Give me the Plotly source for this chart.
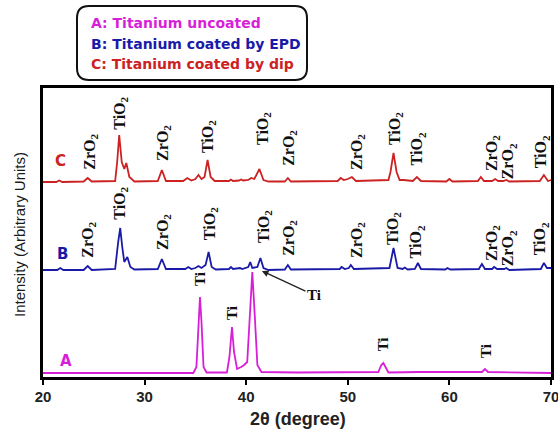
import plotly.graph_objects as go

# ---- data (2theta in degrees, intensity in arbitrary units, already stacked) ----
a_theta = [20, 30, 34.8, 35.1, 35.3, 35.45, 35.6, 35.8, 36.1, 38.1, 38.35, 38.6, 38.8, 39.1, 39.5, 39.8,
           40.1, 40.35, 40.6, 40.85, 41.1, 41.5, 45, 53.0, 53.3, 53.5, 53.7, 54.0, 57, 63.2, 63.5, 63.8, 70]
a_int = [4, 4, 4, 10, 60, 80, 55, 10, 4.5, 4.5, 20, 50, 25, 8, 10, 12,
         15, 60, 105, 60, 12, 5, 4.5, 5, 12, 14, 10, 4.5, 5, 5, 8, 5, 4]

b_theta = [20, 21.4, 21.7, 22.0, 24.0, 24.4, 24.8, 27.1, 27.4, 27.6, 27.8, 28.0, 28.3, 28.6, 29.0,
           31.3, 31.7, 32.1, 34.0, 34.3, 34.6, 35.0, 35.3, 35.6, 36.0, 36.3, 36.6, 37.0, 38.3, 38.5,
           38.7, 39.4, 39.6, 40.2, 40.4, 40.6, 41.1, 41.4, 41.7, 42.2, 43.8, 44.1, 44.4, 49.2, 49.4,
           49.7, 50.1, 50.3, 50.6, 54.1, 54.5, 54.9, 55.4, 55.6, 55.9, 56.6, 56.9, 57.2, 59.6, 59.8,
           60.1, 62.9, 63.2, 63.5, 64.2, 64.4, 64.7, 65.4, 65.6, 65.9, 69.0, 69.3, 69.6, 70]
b_int = [107, 107, 109, 107, 107, 111, 107, 108, 135, 149, 130, 115, 120, 110, 107.5,
         108, 118, 108, 108, 110, 108, 109, 111, 109, 112, 125, 110, 107.5, 108, 110,
         108, 109, 108, 110, 115, 109, 110, 119, 109, 107, 107.5, 112, 107.5, 108, 110,
         108, 109, 112, 108, 109, 129, 109, 108, 109.5, 107.5, 108, 114, 108, 107.5, 109,
         107.5, 108, 113, 108, 108, 110, 108, 108, 109, 107, 108, 114, 109, 109]

c_theta = [20, 21.3, 21.6, 21.9, 24.0, 24.4, 24.8, 27.1, 27.3, 27.5, 27.75, 28.0, 28.2, 28.5, 29.0,
           31.3, 31.7, 32.1, 33.8, 34.2, 34.6, 35.0, 35.3, 35.6, 35.9, 36.2, 36.5, 36.9, 38.3, 38.5,
           38.7, 39.3, 39.5, 39.7, 40.2, 40.5, 40.8, 41.3, 41.7, 42.2, 43.8, 44.1, 44.4, 46.0, 49.0,
           49.3, 49.6, 50.0, 50.4, 50.8, 54.0, 54.2, 54.5, 54.8, 55.1, 55.5, 56.4, 56.8, 57.2, 59.7,
           60.0, 60.3, 62.8, 63.1, 63.4, 64.2, 64.5, 64.8, 65.3, 65.6, 65.9, 68.9, 69.3, 69.7, 70]
c_int = [195, 195, 196.5, 195, 195.5, 199, 195.5, 196, 215, 242, 215, 208, 214, 200, 195.5,
         196, 207, 196, 196, 199, 196.5, 198, 202, 198, 200, 217, 200, 196, 196, 197.5,
         196, 196.5, 197.5, 196.5, 197, 199, 198, 208, 197, 195.5, 195.5, 199, 195.5, 195.5, 196,
         199, 197, 198, 200, 196, 197, 205, 224, 205, 197, 197, 196, 200, 196, 195.5,
         198, 195.5, 196, 200, 196, 196, 198, 196, 196, 197, 195.5, 196, 202, 196, 197]

# phase labels: (2theta, label bottom intensity, text)
c_labels = [(24.6, 205, "ZrO<sub>2</sub>"), (27.6, 245, "TiO<sub>2</sub>"), (31.8, 214, "ZrO<sub>2</sub>"),
            (36.3, 222, "TiO<sub>2</sub>"), (41.7, 230, "TiO<sub>2</sub>"), (44.2, 209, "ZrO<sub>2</sub>"),
            (50.9, 205, "ZrO<sub>2</sub>"), (54.7, 230, "TiO<sub>2</sub>"), (56.9, 210, "TiO<sub>2</sub>"),
            (64.2, 204, "ZrO<sub>2</sub>"), (65.8, 196, "ZrO<sub>2</sub>"), (69.1, 207, "TiO<sub>2</sub>")]
b_labels = [(24.4, 117, "ZrO<sub>2</sub>"), (27.6, 155, "TiO<sub>2</sub>"), (31.8, 125, "ZrO<sub>2</sub>"),
            (36.5, 135, "TiO<sub>2</sub>"), (41.8, 132, "TiO<sub>2</sub>"), (44.2, 119, "ZrO<sub>2</sub>"),
            (50.9, 117, "ZrO<sub>2</sub>"), (54.5, 130, "TiO<sub>2</sub>"), (56.8, 117, "TiO<sub>2</sub>"),
            (64.2, 114, "ZrO<sub>2</sub>"), (65.8, 109, "ZrO<sub>2</sub>"), (69.0, 120, "TiO<sub>2</sub>")]
a_labels = [(35.45, 89, "Ti"), (38.6, 55, "Ti"), (53.5, 24, "Ti"), (63.6, 17, "Ti")]

x_ticks = [20, 30, 40, 50, 60, 70]

MAG = "#d81fd8"
BLU = "#1a1aa8"
RED = "#cc2222"

fig = go.Figure()
for th, it, col in [(a_theta, a_int, MAG), (b_theta, b_int, BLU), (c_theta, c_int, RED)]:
    fig.add_trace(go.Scatter(x=th, y=it, mode="lines", line=dict(color=col, width=1.8),
                             showlegend=False, hoverinfo="skip"))

ann = []
serif = dict(family="Liberation Serif, Times New Roman, serif", size=16, color="#111")
serif_ti = dict(family="Liberation Serif, Times New Roman, serif", size=15, color="#111")
for lab in c_labels + b_labels:
    ann.append(dict(x=lab[0], y=lab[1], xref="x", yref="y", text="<b>" + lab[2] + "</b>",
                    textangle=-90, showarrow=False, xanchor="center", yanchor="bottom", font=serif))
for lab in a_labels:
    ann.append(dict(x=lab[0], y=lab[1], xref="x", yref="y", text="<b>" + lab[2] + "</b>",
                    textangle=-90, showarrow=False, xanchor="center", yanchor="bottom", font=serif_ti))

# arrow pointing to Ti peak
ann.append(dict(x=41.55, y=106, xref="x", yref="y", text="<b>Ti</b>", showarrow=True,
                ax=52, ay=24, arrowhead=2, arrowsize=1, arrowwidth=1.3, arrowcolor="#222",
                font=serif_ti, standoff=0))

sans = "Liberation Sans, Arial, sans-serif"
wide = "DejaVu Sans, Verdana, sans-serif"
for txt, x, y, col in [("A", 22.3, 16, MAG), ("B", 21.9, 123, BLU), ("C", 21.7, 216, RED)]:
    ann.append(dict(x=x, y=y, xref="x", yref="y", text="<b>" + txt + "</b>", showarrow=False,
                    xanchor="center", yanchor="middle",
                    font=dict(family=wide, size=15, color=col)))

# legend box texts (paper coords)
def px(xp):
    return (xp - 43) / 508.0

def py(yp):
    return (377 - yp) / 289.0

for txt, yp, col in [("A: Titanium uncoated", 23, MAG), ("B: Titanium coated by EPD", 44, BLU),
                     ("C: Titanium coated by dip", 64, RED)]:
    ann.append(dict(x=px(89), y=py(yp), xref="paper", yref="paper", text="<b>" + txt + "</b>",
                    showarrow=False, xanchor="left", yanchor="middle",
                    font=dict(family=wide, size=14, color=col)))

# axis titles
ann.append(dict(x=px(19), y=py(235), xref="paper", yref="paper", text="Intensity (Arbitrary Units)",
                textangle=-90, showarrow=False, xanchor="center", yanchor="middle",
                font=dict(family=sans, size=15, color="#1a1a1a")))
ann.append(dict(x=px(298), y=py(419), xref="paper", yref="paper", text="<b>2θ (degree)</b>",
                showarrow=False, xanchor="center", yanchor="middle",
                font=dict(family=sans, size=18, color="#222")))

# rounded legend box
x0, x1, y0, y1 = px(77), px(307), py(80), py(6)
rx, ry = 12 / 508.0, 12 / 289.0
path = (f"M {x0+rx},{y1} L {x1-rx},{y1} Q {x1},{y1} {x1},{y1-ry} L {x1},{y0+ry} "
        f"Q {x1},{y0} {x1-rx},{y0} L {x0+rx},{y0} Q {x0},{y0} {x0},{y0+ry} "
        f"L {x0},{y1-ry} Q {x0},{y1} {x0+rx},{y1} Z")

fig.update_layout(
    width=558, height=432,
    margin=dict(l=43, r=7, t=88, b=55),
    paper_bgcolor="white", plot_bgcolor="white",
    annotations=ann,
    shapes=[dict(type="path", path=path, xref="paper", yref="paper",
                 line=dict(color="#111", width=2), fillcolor="rgba(0,0,0,0)")],
    xaxis=dict(range=[20, 70], tickvals=x_ticks, ticktext=[f"<b>{t}</b>" for t in x_ticks],
               showline=True, linewidth=2.5, linecolor="black", mirror=True,
               ticks="outside", ticklen=5, tickwidth=2, tickcolor="black",
               showgrid=False, zeroline=False, automargin=False, ticklabelstandoff=-1,
               ticklabeloverflow="allow",
               tickfont=dict(family=sans, size=15, color="#222")),
    yaxis=dict(range=[0, 289], showticklabels=False, ticks="", showline=True, linewidth=2.5,
               linecolor="black", mirror=True, showgrid=False, zeroline=False, automargin=False),
)

fig.write_html("out.html", config={"displayModeBar": False},
               post_script="document.body.style.margin='0';document.body.style.padding='0';"
                           "document.body.style.overflow='hidden';")
